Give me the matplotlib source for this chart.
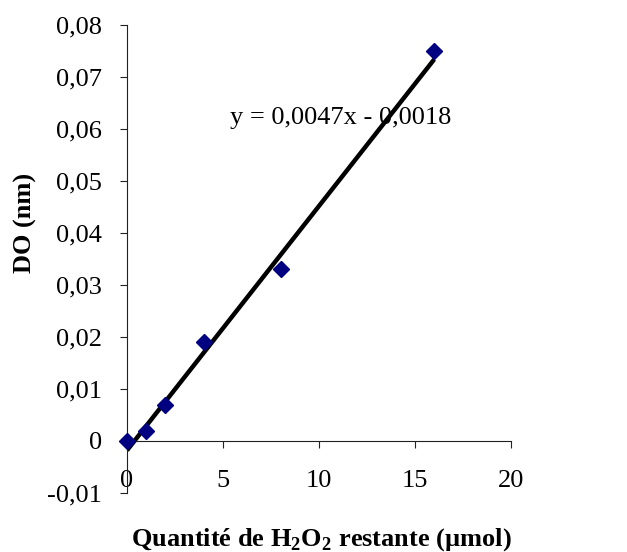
"""Calibration curve: DO vs remaining H2O2 amount."""
import numpy as np
import matplotlib
matplotlib.use("Agg")
import matplotlib.pyplot as plt
from matplotlib.ticker import FuncFormatter, MultipleLocator

plt.rcParams["font.family"] = ["Liberation Serif", "DejaVu Serif"]
plt.rcParams["mathtext.fontset"] = "custom"
plt.rcParams["mathtext.rm"] = "Liberation Serif"
plt.rcParams["mathtext.bf"] = "Liberation Serif:bold"

# data
h2o2_umol = [0, 1, 2, 4, 8, 16]
do_nm = [0.0, 0.002, 0.007, 0.019, 0.033, 0.075]
SLOPE, INTERCEPT = 0.0047, -0.0018
EQ_LABEL = "y = 0,0047x - 0,0018"


def comma(v, pos):
    if abs(v) < 1e-9:
        return "0"
    return f"{v:.2f}".replace(".", ",")


fig = plt.figure(figsize=(6.27, 5.52), dpi=100)
ax = fig.add_axes([0.2026, 0.1069, 0.815 - 0.2026, 0.9547 - 0.1069])

xfit = np.array([h2o2_umol[0], h2o2_umol[-1]])
ax.plot(xfit, SLOPE * xfit + INTERCEPT, color="black", lw=3.2,
        solid_capstyle="butt", zorder=2)
ax.plot(h2o2_umol, do_nm, ls="none", marker="D", ms=8.5, color="#000080",
        mec="#000080", zorder=3, clip_on=False)

ax.set_xlim(0, 20)
ax.set_ylim(-0.01, 0.08)
ax.xaxis.set_major_locator(MultipleLocator(5))
ax.yaxis.set_major_locator(MultipleLocator(0.01))
ax.yaxis.set_major_formatter(FuncFormatter(comma))

for s in ["top", "right"]:
    ax.spines[s].set_visible(False)
ax.spines["bottom"].set_position(("data", 0))
ax.spines["left"].set_position(("data", 0))
for s in ["bottom", "left"]:
    ax.spines[s].set_linewidth(0.8)
    ax.spines[s].set_color("#222222")

ax.tick_params(axis="x", direction="out", length=5, width=0.8, pad=16,
               labelsize=19, colors="#222222", labelcolor="black")
ax.tick_params(axis="y", direction="out", length=5, width=0.8, pad=13,
               labelsize=19, colors="#222222", labelcolor="black")

ax.text(5.36, 0.0621, EQ_LABEL, fontsize=19, va="center", ha="left")

fig.text(0.513, 0.0217, r"Quantité de H$_{\mathbf{2}}$O$_{\mathbf{2}}$ restante (µmol)",
         fontsize=19, fontweight="bold", ha="center", va="center")
fig.text(0.04, 0.597, "DO (nm)", fontsize=19, fontweight="bold",
         rotation=90, ha="center", va="center")

fig.savefig("out.png", dpi=100)
